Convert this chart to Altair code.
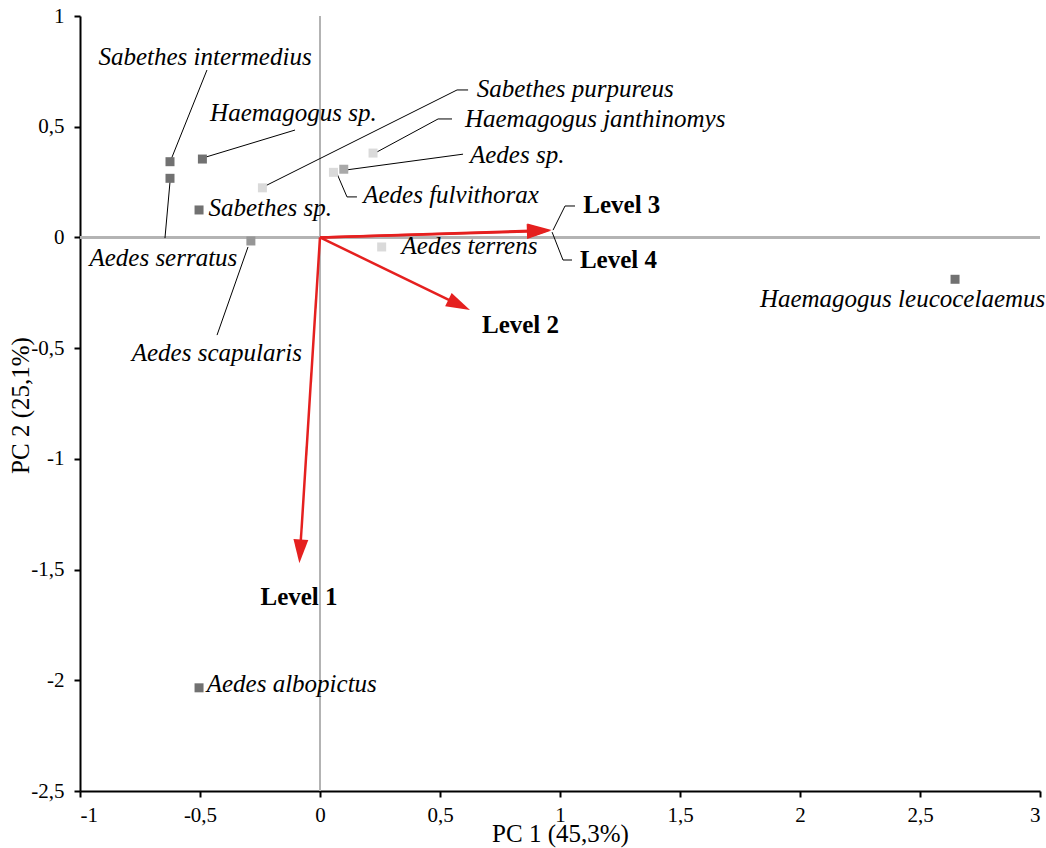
import math
import altair as alt
import pandas as pd

# ---- species scores (PC1, PC2) ----
species = ["Sabethes intermedius", "Aedes serratus", "Haemagogus sp.", "Sabethes purpureus",
           "Sabethes sp.", "Aedes scapularis", "Haemagogus janthinomys", "Aedes sp.",
           "Aedes fulvithorax", "Aedes terrens", "Haemagogus leucocelaemus", "Aedes albopictus"]
pc1 = [-0.625, -0.625, -0.49, -0.24, -0.504, -0.288, 0.221, 0.099, 0.056, 0.257, 2.646, -0.504]
pc2 = [0.342, 0.267, 0.354, 0.224, 0.124, -0.016, 0.381, 0.308, 0.294, -0.043, -0.189, -2.034]
shade = ["dark", "dark", "dark", "light", "dark", "mid", "light", "midlight",
         "light", "light", "dark", "dark"]

# ---- loadings (arrows) ----
levels = ["Level 1", "Level 2", "Level 3", "Level 4"]
load1 = [-0.086, 0.625, 0.965, 0.962]
load2 = [-1.472, -0.328, 0.033, 0.030]

# ---- labels ----
label_text = ["Sabethes intermedius", "Haemagogus sp.", "Sabethes purpureus",
              "Haemagogus janthinomys", "Aedes sp.", "Aedes fulvithorax", "Sabethes sp.",
              "Aedes serratus", "Aedes terrens", "Aedes scapularis",
              "Haemagogus leucocelaemus", "Aedes albopictus",
              "Level 1", "Level 2", "Level 3", "Level 4"]
label_x = [-0.479, -0.458, 0.653, 0.604, 0.625, 0.180, -0.465, -0.6525, 0.340, -0.430,
           1.833, -0.472, -0.0875, 0.675, 1.097, 1.083]
label_y = [0.779, 0.526, 0.634, 0.499, 0.336, 0.155, 0.097, -0.129, -0.075, -0.558,
           -0.314, -2.053, -1.660, -0.432, 0.110, -0.138]
label_kind = ["ic", "il", "il", "il", "il", "il", "il", "ic", "il", "ic",
              "il", "il", "bc", "bl", "bl", "bl"]

# ---- leader lines ----
seg_x1 = [-0.471, -0.104, 0.617, 0.571, 0.550, 0.492, 0.596, 0.154, 0.1125, -0.646, -0.429,
          1.0625, 1.021, 1.050, 1.0125]
seg_y1 = [0.756, 0.485, 0.666, 0.666, 0.535, 0.535, 0.376, 0.183, 0.183, -0.003, -0.441,
          0.142, 0.142, -0.102, -0.102]
seg_x2 = [-0.625, -0.4875, 0.571, -0.229, 0.492, 0.2375, 0.104, 0.1125, 0.070, -0.625, -0.300,
          1.021, 0.971, 1.0125, 0.967]
seg_y2 = [0.340, 0.359, 0.666, 0.232, 0.535, 0.386, 0.304, 0.183, 0.290, 0.250, -0.043,
          0.142, 0.033, -0.102, 0.024]

# ---- layout ----
W, H = 960, 775
XD = [-1, 3]
YD = [-2.5, 1]
SX = W / (XD[1] - XD[0])
SY = H / (YD[1] - YD[0])
FONT = "Liberation Serif"
RED = "#e5201f"
HEAD = 24

pts = pd.DataFrame({"name": species, "x": pc1, "y": pc2, "shade": shade})
arr = pd.DataFrame({"name": levels, "x": load1, "y": load2})
lab = pd.DataFrame({"text": label_text, "x": label_x, "y": label_y, "kind": label_kind})
seg = pd.DataFrame({"x": seg_x1, "y": seg_y1, "x2": seg_x2, "y2": seg_y2})

lbl = "replace(toString(datum.value), '.', ',')"
xaxis = alt.Axis(values=[-1, -0.5, 0, 0.5, 1, 1.5, 2, 2.5, 3], labelExpr=lbl,
                 title="PC 1 (45,3%)", grid=False, domainColor="black", domainWidth=2,
                 tickColor="black", tickWidth=2, tickSize=6, labelPadding=7,
                 labelFont=FONT, labelFontSize=21, labelColor="black",
                 titleFont=FONT, titleFontSize=25, titleFontWeight="normal",
                 titleColor="black", titleY=42, titleBaseline="middle")
yaxis = alt.Axis(values=[-2.5, -2, -1.5, -1, -0.5, 0, 0.5, 1], labelExpr=lbl,
                 title="PC 2 (25,1%)", grid=False, domainColor="black", domainWidth=2,
                 tickColor="black", tickWidth=2, tickSize=6, labelPadding=10,
                 labelFont=FONT, labelFontSize=21, labelColor="black",
                 titleFont=FONT, titleFontSize=25, titleFontWeight="normal",
                 titleColor="black", titleX=-60, titleY=389, titleAngle=270,
                 titleAlign="center", titleBaseline="middle")
xs = alt.Scale(domain=XD, nice=False, zero=False)
ys = alt.Scale(domain=YD, nice=False, zero=False)
X = alt.X("x:Q", scale=xs, axis=xaxis)
Y = alt.Y("y:Q", scale=ys, axis=yaxis)

zero_h = alt.Chart(pts).mark_rule(color="#b3b3b3", strokeWidth=2).encode(
    y=alt.Y(datum=0, scale=ys, axis=yaxis))
zero_v = alt.Chart(pts).mark_rule(color="#b3b3b3", strokeWidth=2).encode(
    x=alt.X(datum=0, scale=xs, axis=xaxis))

points = alt.Chart(pts).mark_square(size=81, opacity=1).encode(
    x=X, y=Y,
    color=alt.Color("shade:N", legend=None,
                    scale=alt.Scale(domain=["dark", "mid", "midlight", "light"],
                                    range=["#717171", "#969696", "#a9a9a9", "#dadada"])))

leaders = alt.Chart(seg).mark_rule(color="black", strokeWidth=1).encode(
    x=X, y=Y, x2="x2:Q", y2="y2:Q")

shaft = alt.Chart(arr).transform_calculate(
    L=f"sqrt(pow(datum.x*{SX},2)+pow(datum.y*{SY},2))"
).transform_calculate(
    f=f"(datum.L-{HEAD*0.6})/datum.L"
).transform_calculate(
    x2="datum.x*datum.f", y2="datum.y*datum.f", x0="0", y0="0"
).mark_rule(color=RED, strokeWidth=2.5).encode(
    x=alt.X("x0:Q", scale=xs, axis=xaxis), y=alt.Y("y0:Q", scale=ys, axis=yaxis),
    x2="x2:Q", y2="y2:Q")

heads = alt.Chart(arr).transform_calculate(
    ang=f"(atan2(-datum.y*{SY}, datum.x*{SX})*180/PI + 360) % 360"
).mark_point(shape="M0,0L-2,-0.62L-2,0.62Z", size=HEAD * HEAD, filled=True,
             color=RED, opacity=1, strokeWidth=0).encode(
    x=X, y=Y, angle=alt.Angle("ang:Q", scale=None))


def text_layer(kind, align, style, weight):
    return alt.Chart(lab).transform_filter(f"datum.kind == '{kind}'").mark_text(
        align=align, baseline="alphabetic", font=FONT, fontSize=25,
        fontStyle=style, fontWeight=weight, color="black").encode(
        x=X, y=Y, text="text:N")


texts = [text_layer("il", "left", "italic", "normal"),
         text_layer("ic", "center", "italic", "normal"),
         text_layer("bl", "left", "normal", "bold"),
         text_layer("bc", "center", "normal", "bold")]

chart = alt.layer(zero_h, zero_v, leaders, points, shaft, heads, *texts).properties(
    width=W, height=H,
    autosize=alt.AutoSizeParams(type="none"),
    padding={"left": 80, "top": 16, "right": 6, "bottom": 57},
    background="white",
).configure_view(stroke=None)

chart.save("out.html", embed_options={"renderer": "svg", "actions": False})
